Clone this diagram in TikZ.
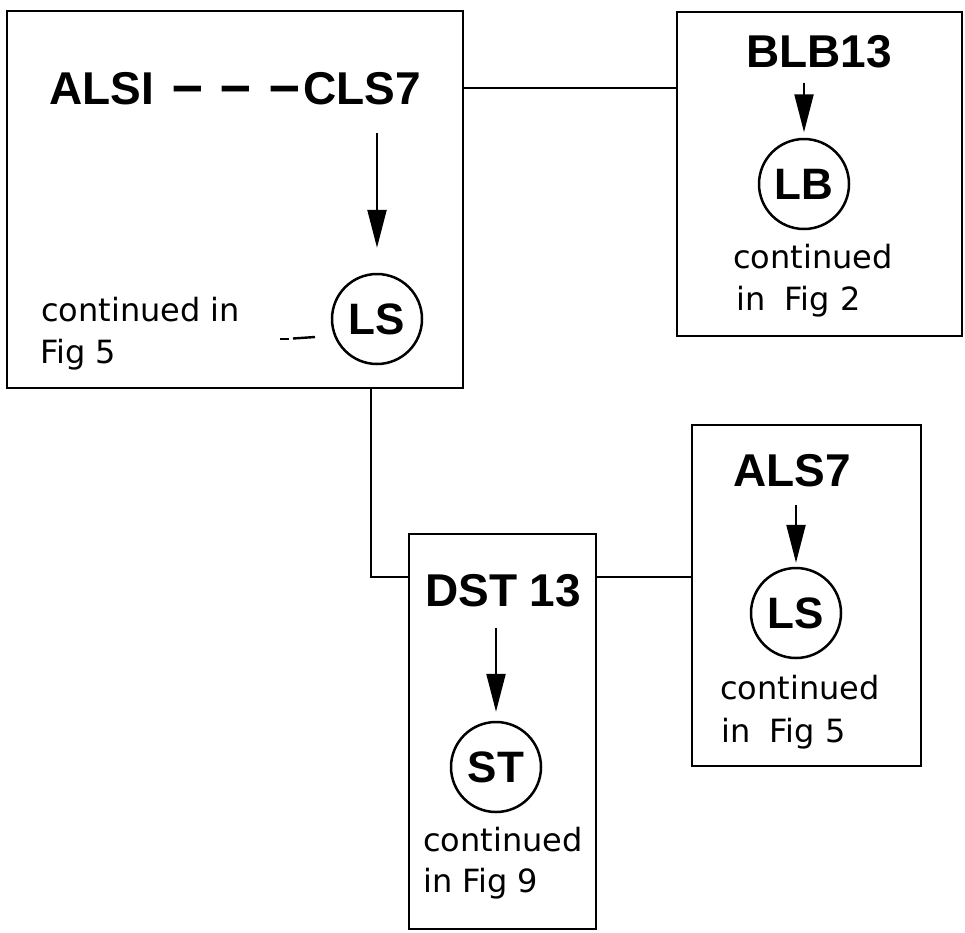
\documentclass[tikz,border=0pt]{standalone}
\usepackage{fontspec}
\newfontfamily\headfont{Liberation Sans}
\newfontfamily\contfont{DejaVu Sans}
\usetikzlibrary{arrows.meta}
\newcommand{\bigdash}{\scalebox{1.2}[1.25]{–}}
\begin{document}
\begin{tikzpicture}[x=1pt,y=-1pt,
  box/.style={draw, line width=2.8pt, inner sep=0pt},
  head/.style={font=\headfont\bfseries\fontsize{46}{50}\selectfont, inner sep=0pt, anchor=base west},
  cont/.style={font=\contfont\fontsize{32}{42}\selectfont, inner sep=0pt, anchor=base west},
  ring/.style={draw, circle, line width=2.5pt, minimum size=90pt, inner sep=0pt,
    font=\headfont\bfseries\fontsize{44}{48}\selectfont},
  link/.style={line width=1.8pt},
  flow/.style={line width=2.3pt, -{Triangle[length=38pt,width=19pt]}}
]
\useasboundingbox[fill=white] (0,0) rectangle (965,932);

% boxes
\node[box, minimum width=456pt, minimum height=377pt] (box1) at (235,199.5) {};
\node[box, minimum width=285pt, minimum height=324pt] (box2) at (819.5,174) {};
\node[box, minimum width=187pt, minimum height=395pt] (box3) at (502.5,731.5) {};
\node[box, minimum width=229pt, minimum height=341pt] (box4) at (806.5,595.5) {};

% connectors between boxes
\coordinate (k) at (0,88);
\coordinate (j) at (371,577);
\draw[link] (box1.east |- k) -- (box2.west |- k);
\draw[link] (box1.south -| j) -- (j) -- (box3.west |- j);
\draw[link] (box3.east |- j) -- (box4.west |- j);

% box 1
\node[head] (alsi) at (49,104) {ALSI};
\node[head] (dashes) at (172,104) {\bigdash\hspace{18pt}\bigdash\hspace{18pt}\bigdash};
\node[head] (cls7) at (303,104) {CLS7};
\node[ring] (ls1) at (377,319) {LS};
\draw[flow] ([yshift=-28pt]cls7.south -| ls1.north) -- ([yshift=25pt]ls1.north);
\node[cont] (c1a) at (41,321) {continued in};
\node[cont] (c1b) at (40,363) {Fig 5};
\coordinate (m1) at (280,339);
\coordinate (m2) at (289,339);
\coordinate (m3) at (293,338.5);
\coordinate (m4) at (315,337);
\draw[line width=1.6pt] (m1) -- (m2);
\draw[line width=2.4pt] (m3) -- (m4);

% box 2
\node[head] (blb) at (746,67) {BLB13};
\node[ring] (lb) at (804,184) {LB};
\draw[flow] ([yshift=-15pt]blb.south -| lb.north) -- ([yshift=5.5pt]lb.north);
\node[cont] (c2a) at (733,268) {continued};
\node[cont] (c2b) at (736,310) {in\hspace{9pt} Fig 2};

% box 3
\node[head] (dst) at (425,606) {DST 13};
\node[ring] (st) at (496,767) {ST};
\draw[flow] ([yshift=-21pt]dst.south -| st.north) -- ([yshift=9pt]st.north);
\node[cont] (c3a) at (423,851) {continued};
\node[cont] (c3b) at (423,892) {in Fig 9};

% box 4
\node[head] (als7) at (733,486) {ALS7};
\node[ring] (ls4) at (796,613) {LS};
\draw[flow] ([yshift=-18pt]als7.south -| ls4.north) -- ([yshift=4pt]ls4.north);
\node[cont] (c4a) at (720,699) {continued};
\node[cont] (c4b) at (721,742) {in\hspace{9pt} Fig 5};
\end{tikzpicture}
\end{document}
